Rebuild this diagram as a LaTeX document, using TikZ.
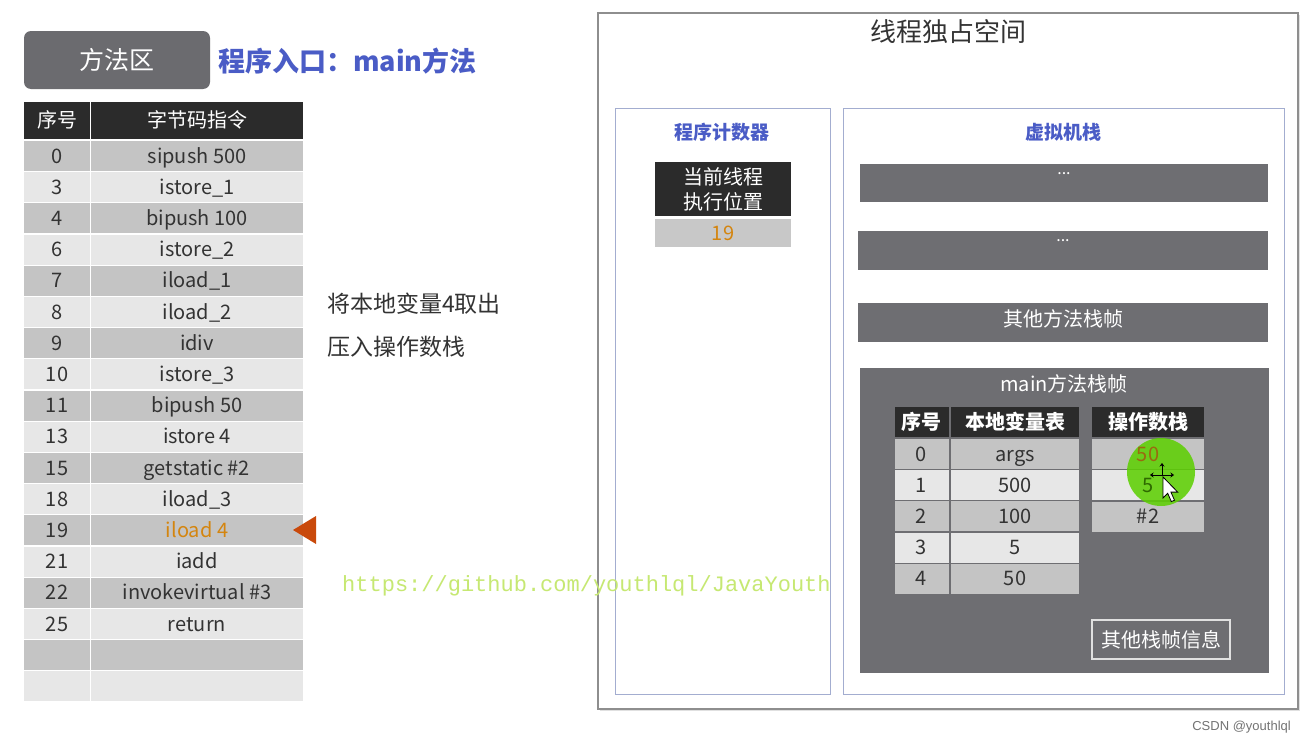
\documentclass[tikz,border=0pt]{standalone}
\usepackage{fontspec}
\setmainfont{Noto Sans CJK SC}
\newfontfamily\monofont{Liberation Mono}
\newfontfamily\arialfont{Liberation Sans}
\usetikzlibrary{arrows.meta}
\definecolor{boxgray}{HTML}{6B6B6F}
\definecolor{headdark}{HTML}{2B2B2B}
\definecolor{rowdark}{HTML}{C4C4C4}
\definecolor{rowlight}{HTML}{E7E7E7}
\definecolor{bluetxt}{HTML}{4A5CC6}
\definecolor{orangetxt}{HTML}{D4850F}
\definecolor{pointercol}{HTML}{C9490B}
\definecolor{framegray}{HTML}{6E6E72}
\definecolor{bordblue}{HTML}{A3ADD0}
\definecolor{outerline}{HTML}{8E8E8E}
\definecolor{txtdark}{HTML}{333333}
\definecolor{wmgreen}{HTML}{C6E872}
\definecolor{hlgreen}{HTML}{5CCF00}
\definecolor{valgray}{HTML}{C8C8C8}
\definecolor{fiftytxt}{HTML}{9A6A10}
\definecolor{fivetxt}{HTML}{2E6A00}
\tikzset{
  f20/.style={font=\fontsize{20}{24}\selectfont},
  cell/.style={f20, inner sep=0pt, minimum height=30pt, text=txtdark, text height=16pt, text depth=2pt},
  hcell/.style={f20, inner sep=0pt, fill=headdark, text=white, text height=16pt, text depth=2pt},
  panel/.style={draw=bordblue, line width=1pt, inner sep=0pt},
  bar/.style={fill=framegray, inner sep=0pt},
  bluelabel/.style={font=\bfseries\fontsize{19}{19}\selectfont, text=bluetxt, inner sep=0pt},
  whitetxt/.style={f20, text=white, inner sep=0pt}
}
\begin{document}
\begin{tikzpicture}[x=1pt,y=-1pt]
\fill[white] (0,0) rectangle (1301,744);
\useasboundingbox (0,0) rectangle (1301,744);

% method area title
\node[fill=boxgray, rounded corners=7pt, minimum width=186pt, minimum height=58pt, text=white,
      font=\fontsize{25}{25}\selectfont, inner sep=0pt] (ma) at (117,60) {方法区};
\node[anchor=west, text=bluetxt, font=\bfseries\fontsize{27}{27}\selectfont, inner sep=0pt] (entry) at (218,61) {程序入口：main方法};

% bytecode table
\node[hcell, minimum width=66pt, minimum height=37pt] (lh1) at (57,120.5) {序号};
\node[hcell, minimum width=212pt, minimum height=37pt] (lh2) at (197,120.5) {字节码指令};
\foreach \n/\t [count=\i from 0] in {0/sipush 500, 3/istore\_1, 4/bipush 100, 6/istore\_2, 7/iload\_1, 8/iload\_2, 9/idiv, 10/istore\_3, 11/bipush 50, 13/istore 4, 15/getstatic \#2, 18/iload\_3, 19/\textcolor{orangetxt}{iload 4}, 21/iadd, 22/invokevirtual \#3, 25/return, {}/{}, {}/{}}{
  \ifodd\i \def\rc{rowlight}\else\def\rc{rowdark}\fi
  \node[cell, fill=\rc, minimum width=66pt] (ln\i) at (57,{156+\i*31.2}) {\n};
  \node[cell, fill=\rc, minimum width=212pt] (lt\i) at (197,{156+\i*31.2}) {\t};
}
% current instruction pointer
\coordinate (ptrtip) at (293,530);
\fill[pointercol] (ptrtip) -- ++(23,-14) -- ++(0,28) -- cycle;

% note
\node[anchor=west, font=\fontsize{23}{23}\selectfont, text=txtdark, inner sep=0pt] (note1) at (327,304) {将本地变量4取出};
\node[anchor=west, font=\fontsize{23}{23}\selectfont, text=txtdark, inner sep=0pt] (note2) at (327,347) {压入操作数栈};

% thread-private space
\fill[black!12] (600,15) rectangle (1300,711);
\node[draw=outerline, fill=white, line width=1.2pt, minimum width=700pt, minimum height=696pt, inner sep=0pt] (outer) at (948,361) {};
\node[font=\fontsize{26}{26}\selectfont, text=txtdark, inner sep=0pt] (ttl) at (948,32) {线程独占空间};

% program counter
\node[panel, minimum width=215pt, minimum height=586pt] (pc) at (722.5,401) {};
\node[bluelabel] (pclbl) at (722,132) {程序计数器};
\node[fill=headdark, text=white, minimum width=136pt, minimum height=54pt, inner sep=0pt, align=center,
      font=\fontsize{20}{25}\selectfont] (cur) at (723,189) {当前线程\\执行位置};
\node[cell, fill=valgray, text=orangetxt, minimum width=136pt, minimum height=28pt] (curval) at (723,233) {19};

% VM stack
\node[panel, minimum width=441pt, minimum height=586pt] (vms) at (1063.5,401) {};
\node[bluelabel] (vmlbl) at (1063,132) {虚拟机栈};
\node[bar, minimum width=408pt, minimum height=38pt] (b1) at (1064,183) {};
\node[text=white, font=\fontsize{16}{16}\selectfont, inner sep=0pt] (d1) at (1064,174) {...};
\node[bar, minimum width=410pt, minimum height=39pt] (b2) at (1063,250.5) {};
\node[text=white, font=\fontsize{16}{16}\selectfont, inner sep=0pt] (d2) at (1063,241) {...};
\node[bar, minimum width=410pt, minimum height=39pt] (b3) at (1063,322.5) {};
\node[whitetxt] (b3t) at (1063,319) {其他方法栈帧};

% main frame
\node[bar, minimum width=409pt, minimum height=305pt] (mf) at (1064.5,520.5) {};
\node[whitetxt] (mft) at (1064,384) {main方法栈帧};

% local variable table
\node[hcell, font=\bfseries\fontsize{20}{24}\selectfont, minimum width=54pt, minimum height=30pt] (vh1) at (921.5,422) {序号};
\node[hcell, font=\bfseries\fontsize{20}{24}\selectfont, minimum width=128pt, minimum height=30pt] (vh2) at (1015,422) {本地变量表};
\foreach \n/\v [count=\i from 0] in {0/args, 1/500, 2/100, 3/5, 4/50}{
  \ifodd\i \def\rc{rowlight}\else\def\rc{rowdark}\fi
  \node[cell, fill=\rc, minimum width=54pt] (vn\i) at (921.5,{454+\i*31.2}) {\n};
  \node[cell, fill=\rc, minimum width=128pt] (vv\i) at (1015,{454+\i*31.2}) {\v};
}

% operand stack
\node[hcell, font=\bfseries\fontsize{20}{24}\selectfont, minimum width=112pt, minimum height=30pt] (oh) at (1148,422) {操作数栈};
\foreach \v [count=\i from 0] in {{}, {}, \#2}{
  \ifodd\i \def\rc{rowlight}\else\def\rc{rowdark}\fi
  \node[cell, fill=\rc, minimum width=112pt] (os\i) at (1148,{454+\i*31.4}) {\v};
}

% other frame info
\node[whitetxt, draw=white!88!black, line width=1.5pt, minimum width=138pt, minimum height=39pt] (oi) at (1161,639.5) {其他栈帧信息};

% highlight, values seen through it, and cursor
\node[circle, fill=hlgreen, fill opacity=0.86, minimum size=68pt, inner sep=0pt] (hl) at (1161,472) {};
\node[cell, text=fiftytxt] (os0t) at (1148,454) {50};
\node[cell, text=fivetxt] (os1t) at (1148,485.4) {5};
\coordinate (mc) at (1162,475);
\draw[-{Stealth[length=3.5pt,width=5pt]}, line width=1pt] (mc) -- ++(0,-12);
\draw[-{Stealth[length=3.5pt,width=5pt]}, line width=1pt] (mc) -- ++(-12,0);
\draw[-{Stealth[length=3.5pt,width=5pt]}, line width=1pt] (mc) -- ++(12,0);
\coordinate (ctip) at (1163,477);
\filldraw[fill=white, draw=black, line width=0.8pt] (ctip) -- ++(0,21) -- ++(4.7,-4.7) -- ++(3.6,8.3) -- ++(3.2,-1.4) -- ++(-3.6,-8.1) -- ++(6.8,0) -- cycle;

% watermarks
\node[anchor=west, font=\monofont\fontsize{22}{22}\selectfont, text=wmgreen, inner sep=0pt] (wm) at (342,586) {https://github.com/youthlql/JavaYouth};
\node[anchor=east, font=\arialfont\fontsize{13}{13}\selectfont, text=black!55, inner sep=0pt] (csdn) at (1291,727) {CSDN @youthlql};
\end{tikzpicture}
\end{document}
